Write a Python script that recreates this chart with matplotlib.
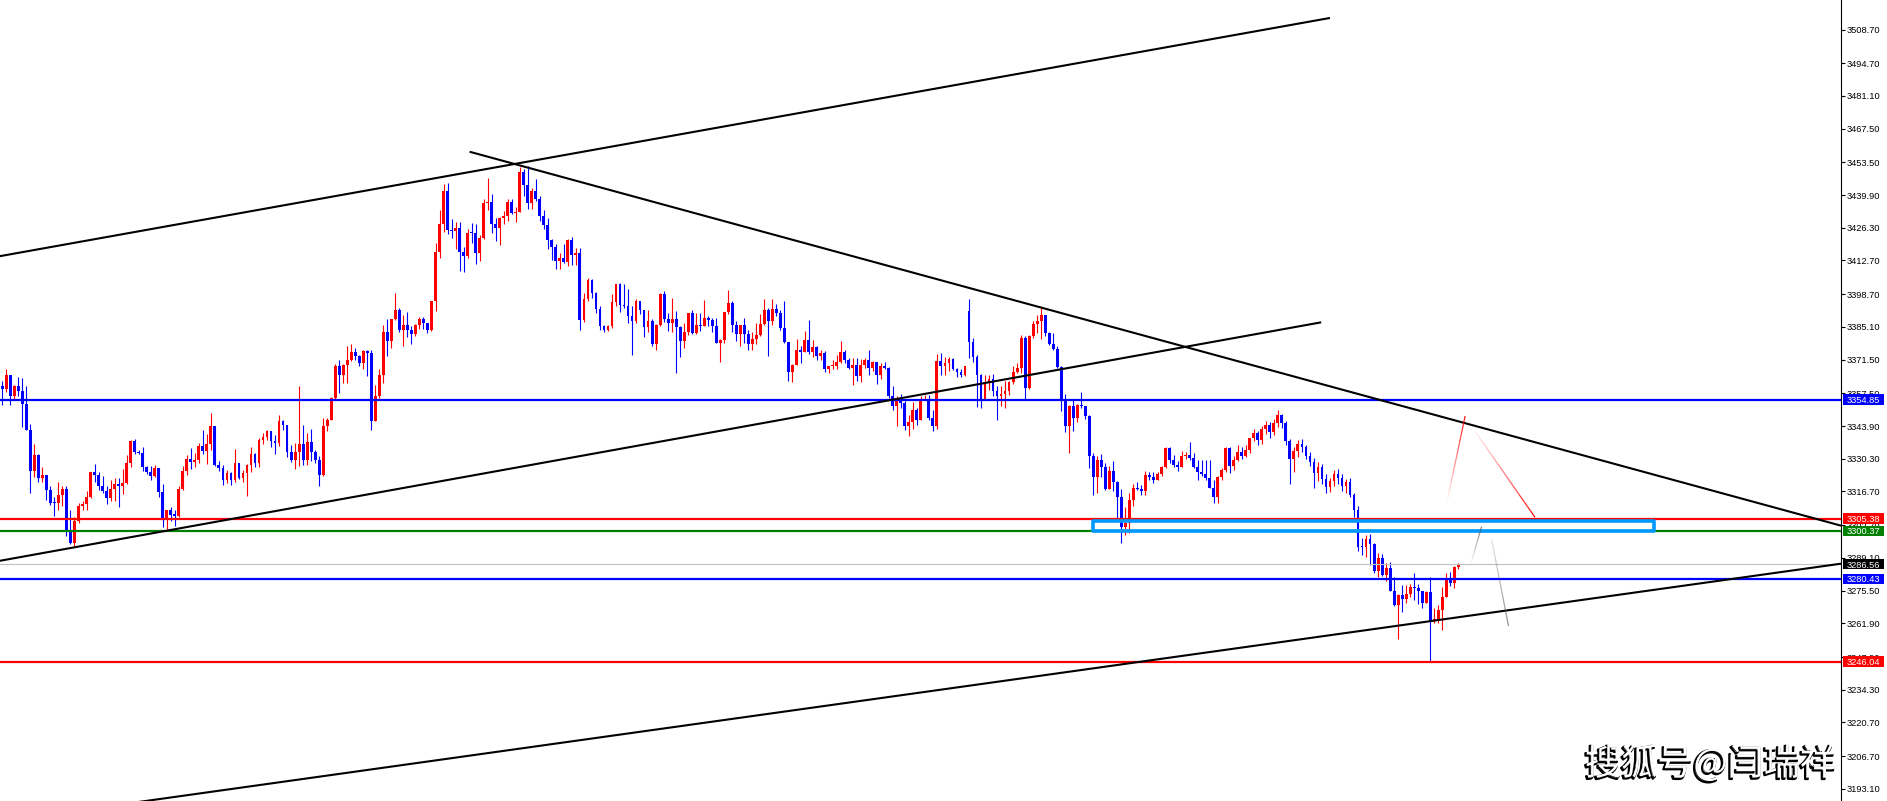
import numpy as np
import matplotlib
matplotlib.use("Agg")
import matplotlib.pyplot as plt
import matplotlib.patheffects as pe
import matplotlib.transforms as mtransforms
from matplotlib.collections import LineCollection
from matplotlib.patches import Rectangle
from matplotlib.colors import to_rgba

# ---------------- data ----------------
first_open = 3360.7
closes = [
    3359.3, 3365.3, 3356.2, 3360.7, 3358.3, 3353.2, 3342.4, 3325.4, 3331.9, 3322.5,
    3323.6, 3317.4, 3312.1, 3311.8, 3315.3, 3317.6, 3300.7, 3295.1, 3304.6, 3310.7,
    3311.5, 3314.6, 3324.6, 3323.6, 3319.0, 3316.7, 3313.9, 3317.6, 3319.9, 3318.8,
    3320.4, 3328.5, 3337.8, 3333.3, 3332.6, 3326.8, 3325.0, 3323.2, 3326.4, 3316.3,
    3305.5, 3309.0, 3306.9, 3306.7, 3317.8, 3325.3, 3330.1, 3328.9, 3329.9, 3335.4,
    3333.7, 3336.5, 3343.8, 3327.8, 3326.4, 3321.3, 3324.3, 3321.3, 3328.5, 3322.2,
    3324.3, 3327.8, 3332.4, 3328.5, 3338.2, 3339.3, 3341.7, 3337.5, 3336.8, 3345.8,
    3344.4, 3333.3, 3329.6, 3333.3, 3336.5, 3329.6, 3337.1, 3333.3, 3329.9, 3323.6,
    3343.8, 3346.5, 3355.6, 3369.0, 3365.3, 3369.4, 3371.2, 3374.6, 3373.2, 3370.1,
    3375.0, 3374.3, 3346.2, 3356.5, 3365.3, 3382.9, 3379.2, 3388.2, 3392.3, 3383.7,
    3386.1, 3383.7, 3382.3, 3385.7, 3388.5, 3386.8, 3384.0, 3395.8, 3416.2, 3427.8,
    3441.6, 3425.4, 3425.0, 3426.1, 3416.2, 3414.6, 3424.3, 3424.0, 3415.7, 3422.2,
    3436.5, 3437.1, 3427.8, 3426.0, 3430.5, 3431.0, 3437.1, 3432.3, 3432.9, 3449.3,
    3444.0, 3436.5, 3441.6, 3438.2, 3431.0, 3427.4, 3421.2, 3418.5, 3412.5, 3413.9,
    3412.1, 3421.1, 3414.8, 3415.7, 3387.9, 3396.8, 3404.6, 3399.3, 3392.6, 3385.4,
    3383.7, 3385.4, 3395.5, 3402.8, 3394.0, 3393.7, 3389.6, 3387.5, 3395.8, 3392.3,
    3385.1, 3387.5, 3378.2, 3385.7, 3398.6, 3388.2, 3386.8, 3388.2, 3385.1, 3379.2,
    3382.9, 3390.7, 3382.6, 3386.1, 3385.4, 3388.9, 3387.9, 3385.4, 3378.5, 3379.6,
    3391.2, 3395.1, 3386.1, 3382.2, 3385.7, 3382.2, 3377.8, 3380.1, 3381.9, 3386.5,
    3392.1, 3387.5, 3392.6, 3390.7, 3384.7, 3378.8, 3366.2, 3369.4, 3375.4, 3374.7,
    3379.6, 3374.6, 3376.7, 3373.2, 3374.3, 3367.4, 3368.7, 3369.0, 3370.4, 3374.6,
    3371.2, 3368.0, 3369.4, 3364.6, 3369.4, 3371.2, 3368.1, 3370.4, 3365.3, 3368.8,
    3368.1, 3356.3, 3352.1, 3354.9, 3353.5, 3344.0, 3345.4, 3350.4, 3346.5, 3354.6,
    3355.1, 3347.2, 3344.0, 3370.8, 3369.0, 3369.9, 3371.8, 3367.4, 3366.3, 3365.3,
    3368.8, 3378.7, 3372.6, 3365.3, 3355.1, 3362.1, 3363.5, 3358.3, 3356.5, 3357.4,
    3358.3, 3362.1, 3366.3, 3368.1, 3380.6, 3359.7, 3381.2, 3386.5, 3387.5, 3389.9,
    3382.4, 3378.2, 3376.0, 3368.5, 3355.1, 3344.0, 3352.4, 3347.2, 3352.8, 3352.4,
    3348.2, 3331.5, 3322.6, 3329.6, 3326.8, 3317.6, 3325.4, 3320.8, 3314.3, 3301.8,
    3303.8, 3313.2, 3318.1, 3317.6, 3316.7, 3323.6, 3322.6, 3321.3, 3324.0, 3326.8,
    3334.7, 3329.6, 3327.8, 3326.8, 3331.5, 3331.9, 3330.5, 3326.8, 3325.0, 3324.0,
    3322.2, 3318.1, 3314.3, 3322.6, 3325.7, 3334.7, 3327.4, 3329.9, 3333.3, 3331.5,
    3334.0, 3338.9, 3341.0, 3338.0, 3342.5, 3344.5, 3341.5, 3345.0, 3348.5, 3345.0,
    3337.5, 3330.0, 3333.5, 3336.5, 3335.0, 3331.5, 3329.0, 3324.5, 3327.0, 3322.0,
    3318.5, 3321.0, 3324.0, 3322.5, 3319.0, 3320.5, 3315.3, 3309.0, 3293.8, 3293.5,
    3296.8, 3294.9, 3283.8, 3288.9, 3281.9, 3284.7, 3275.4, 3269.5, 3273.6, 3272.2,
    3274.3, 3277.1, 3276.4, 3275.4, 3270.4, 3275.0, 3262.9, 3263.9, 3267.4, 3272.9,
    3280.2, 3278.5, 3285.2, 3286.5,
]
highs = [
    3362.5, 3367.6, 3365.3, 3361.0, 3364.3, 3363.9, 3360.7, 3344.9, 3336.5, 3332.4,
    3326.8, 3323.6, 3318.8, 3314.6, 3320.8, 3318.8, 3318.8, 3309.0, 3306.3, 3312.1,
    3312.9, 3316.7, 3325.0, 3328.2, 3325.0, 3323.2, 3319.0, 3321.3, 3322.2, 3322.2,
    3326.0, 3331.9, 3338.0, 3338.5, 3334.0, 3335.1, 3327.1, 3327.4, 3327.8, 3326.4,
    3319.9, 3309.2, 3310.4, 3309.0, 3318.8, 3327.1, 3331.9, 3334.7, 3332.6, 3336.8,
    3342.4, 3340.7, 3349.3, 3343.8, 3329.2, 3327.8, 3325.7, 3325.0, 3334.3, 3328.5,
    3325.7, 3328.0, 3335.1, 3332.6, 3338.9, 3341.0, 3342.4, 3341.7, 3340.3, 3348.6,
    3346.5, 3344.4, 3336.1, 3336.8, 3360.7, 3344.4, 3341.0, 3342.6, 3334.0, 3331.3,
    3347.2, 3347.2, 3355.8, 3369.7, 3371.5, 3369.6, 3377.1, 3377.8, 3376.4, 3373.6,
    3375.7, 3375.7, 3375.4, 3361.1, 3367.6, 3385.7, 3388.5, 3388.5, 3399.0, 3393.0,
    3390.2, 3391.2, 3385.4, 3386.5, 3389.3, 3389.3, 3386.8, 3396.0, 3419.8, 3433.7,
    3444.4, 3444.8, 3430.1, 3428.7, 3428.5, 3418.5, 3425.9, 3428.2, 3427.8, 3423.2,
    3438.2, 3446.8, 3440.3, 3430.5, 3430.9, 3433.3, 3438.2, 3438.2, 3435.1, 3451.4,
    3450.7, 3451.8, 3443.0, 3446.5, 3439.6, 3433.7, 3430.5, 3421.5, 3419.4, 3415.9,
    3419.4, 3421.5, 3422.6, 3418.0, 3418.0, 3399.3, 3405.5, 3405.1, 3399.6, 3393.7,
    3386.0, 3386.0, 3398.6, 3403.0, 3403.5, 3402.8, 3400.7, 3393.7, 3396.5, 3395.8,
    3392.3, 3392.3, 3388.2, 3386.5, 3399.0, 3400.0, 3390.9, 3397.2, 3391.6, 3385.4,
    3386.8, 3391.0, 3392.3, 3390.7, 3390.7, 3396.2, 3389.6, 3388.9, 3388.9, 3380.0,
    3391.4, 3400.4, 3395.8, 3387.5, 3386.1, 3388.9, 3383.9, 3382.9, 3386.8, 3390.3,
    3396.8, 3393.0, 3396.8, 3394.8, 3392.3, 3395.8, 3379.0, 3369.6, 3379.9, 3377.1,
    3383.3, 3387.9, 3379.6, 3377.3, 3375.4, 3375.0, 3369.0, 3371.2, 3373.6, 3379.2,
    3375.7, 3372.2, 3372.2, 3372.2, 3371.8, 3372.2, 3375.4, 3370.8, 3370.4, 3369.9,
    3370.4, 3368.3, 3360.7, 3356.2, 3357.4, 3354.2, 3348.6, 3353.8, 3351.4, 3356.2,
    3356.9, 3356.9, 3350.7, 3374.0, 3374.3, 3372.6, 3372.6, 3372.2, 3368.1, 3367.6,
    3369.0, 3396.8, 3380.6, 3373.6, 3365.7, 3365.3, 3365.3, 3365.7, 3360.7, 3360.4,
    3362.5, 3362.5, 3369.0, 3370.1, 3381.9, 3381.2, 3381.9, 3387.5, 3389.9, 3393.7,
    3389.9, 3382.9, 3382.4, 3377.1, 3368.8, 3357.4, 3352.6, 3354.6, 3353.0, 3357.9,
    3352.4, 3348.6, 3332.9, 3331.5, 3332.4, 3328.5, 3327.4, 3329.2, 3321.1, 3317.6,
    3310.1, 3316.2, 3319.9, 3320.8, 3319.4, 3325.4, 3324.6, 3325.0, 3325.0, 3327.1,
    3335.1, 3335.1, 3331.9, 3329.2, 3333.7, 3333.3, 3337.1, 3332.6, 3329.9, 3329.6,
    3329.6, 3329.6, 3321.3, 3323.2, 3326.4, 3335.1, 3335.1, 3331.5, 3336.1, 3335.1,
    3336.1, 3339.0, 3342.5, 3342.0, 3344.0, 3346.0, 3345.5, 3347.0, 3350.5, 3349.0,
    3346.0, 3338.5, 3335.0, 3338.0, 3338.5, 3336.0, 3333.0, 3330.5, 3329.0, 3328.0,
    3324.0, 3322.5, 3325.5, 3326.0, 3324.0, 3322.0, 3322.2, 3316.0, 3310.7, 3297.2,
    3298.6, 3299.0, 3295.4, 3291.0, 3290.7, 3287.1, 3287.5, 3281.3, 3274.3, 3277.8,
    3277.8, 3278.2, 3282.9, 3278.2, 3275.4, 3275.4, 3281.3, 3268.1, 3269.5, 3277.1,
    3282.9, 3283.3, 3285.7, 3287.1,
]
lows = [
    3352.8, 3357.9, 3352.8, 3354.9, 3356.2, 3343.5, 3342.1, 3316.2, 3322.9, 3320.8,
    3320.8, 3313.2, 3311.1, 3306.7, 3308.8, 3310.7, 3298.0, 3294.8, 3293.8, 3303.5,
    3309.0, 3309.0, 3313.9, 3320.8, 3317.4, 3316.0, 3311.5, 3312.9, 3312.9, 3310.4,
    3315.7, 3319.9, 3326.8, 3332.4, 3332.4, 3325.4, 3324.0, 3321.3, 3322.9, 3314.6,
    3302.1, 3301.1, 3304.6, 3302.5, 3306.3, 3317.4, 3323.6, 3326.1, 3326.8, 3328.5,
    3332.4, 3328.2, 3334.0, 3327.1, 3325.4, 3319.4, 3320.1, 3319.4, 3320.8, 3321.8,
    3320.8, 3315.0, 3325.0, 3326.8, 3326.8, 3336.5, 3337.9, 3335.1, 3332.4, 3335.4,
    3342.1, 3331.0, 3328.9, 3326.0, 3327.1, 3327.8, 3327.8, 3329.2, 3328.5, 3318.8,
    3323.2, 3341.7, 3346.3, 3355.1, 3357.6, 3361.8, 3361.8, 3370.8, 3371.5, 3369.0,
    3367.6, 3364.8, 3342.3, 3346.2, 3355.6, 3361.8, 3372.9, 3376.4, 3387.9, 3382.9,
    3377.3, 3381.0, 3377.8, 3381.5, 3384.3, 3384.3, 3382.5, 3383.5, 3391.6, 3413.9,
    3424.6, 3423.6, 3422.2, 3417.6, 3408.3, 3407.9, 3413.9, 3419.8, 3411.1, 3412.5,
    3421.5, 3433.7, 3424.0, 3420.8, 3419.0, 3427.8, 3429.1, 3431.9, 3428.7, 3433.7,
    3439.6, 3434.0, 3434.3, 3437.5, 3429.1, 3425.9, 3417.3, 3412.9, 3409.0, 3409.3,
    3411.8, 3410.4, 3410.7, 3410.7, 3384.0, 3387.1, 3395.8, 3397.2, 3390.7, 3384.0,
    3383.0, 3383.3, 3384.5, 3393.7, 3391.2, 3393.0, 3386.8, 3373.6, 3386.8, 3390.3,
    3381.0, 3382.9, 3377.3, 3375.4, 3385.4, 3387.1, 3383.3, 3382.9, 3366.0, 3372.6,
    3376.4, 3381.9, 3382.3, 3382.3, 3383.3, 3385.4, 3385.4, 3382.9, 3378.3, 3370.4,
    3378.5, 3390.3, 3382.9, 3379.2, 3377.1, 3378.5, 3375.4, 3375.7, 3378.2, 3381.2,
    3386.1, 3373.2, 3386.1, 3389.6, 3384.0, 3378.5, 3362.5, 3362.1, 3369.4, 3370.1,
    3374.6, 3374.0, 3372.6, 3371.2, 3371.5, 3366.5, 3366.0, 3367.4, 3367.6, 3369.9,
    3370.1, 3367.4, 3361.1, 3362.5, 3362.1, 3368.1, 3365.3, 3366.7, 3361.5, 3363.5,
    3367.6, 3355.6, 3350.4, 3344.0, 3351.4, 3342.1, 3339.9, 3342.6, 3344.4, 3346.5,
    3354.6, 3346.3, 3341.7, 3342.6, 3365.3, 3365.3, 3366.7, 3367.1, 3364.3, 3364.3,
    3364.9, 3372.2, 3370.4, 3351.8, 3351.4, 3354.9, 3359.0, 3356.5, 3346.5, 3352.1,
    3351.4, 3356.9, 3361.5, 3366.0, 3366.0, 3355.1, 3359.3, 3380.6, 3382.6, 3380.1,
    3381.5, 3377.4, 3375.7, 3368.1, 3350.0, 3341.3, 3332.9, 3341.7, 3345.4, 3351.4,
    3346.8, 3326.4, 3315.3, 3316.2, 3322.9, 3317.4, 3317.6, 3317.1, 3305.6, 3295.1,
    3298.6, 3299.3, 3310.7, 3317.4, 3315.3, 3315.3, 3321.5, 3320.4, 3321.3, 3323.2,
    3326.4, 3328.7, 3326.8, 3325.4, 3326.8, 3330.1, 3329.6, 3326.4, 3321.3, 3323.2,
    3321.3, 3318.1, 3311.8, 3311.8, 3321.5, 3325.0, 3324.3, 3325.7, 3329.2, 3330.1,
    3331.2, 3332.6, 3337.5, 3336.0, 3336.5, 3340.5, 3339.0, 3340.0, 3343.5, 3343.0,
    3336.0, 3320.0, 3325.0, 3331.0, 3333.0, 3330.0, 3327.5, 3318.0, 3321.0, 3320.0,
    3316.0, 3316.5, 3319.0, 3320.0, 3317.0, 3316.0, 3314.6, 3306.0, 3292.1, 3290.3,
    3289.6, 3286.1, 3282.9, 3281.3, 3281.5, 3279.6, 3275.4, 3269.0, 3255.2, 3266.7,
    3270.4, 3272.7, 3271.5, 3269.9, 3268.1, 3270.2, 3246.3, 3262.1, 3262.1, 3259.0,
    3272.9, 3277.4, 3276.4, 3284.3,
]
gap_opens = {241: 3391.7}

price_ticks = [3508.70, 3494.70, 3481.10, 3467.50, 3453.50, 3439.90, 3426.30,
               3412.70, 3398.70, 3385.10, 3371.50, 3357.50, 3343.90, 3330.30,
               3316.70, 3302.70, 3289.10, 3275.50, 3261.90, 3247.90, 3234.30,
               3220.70, 3206.70, 3193.10]
top_partial_tick = 3522.30

level_prices = [3354.85, 3305.38, 3300.37, 3286.56, 3280.43, 3246.04]
level_line_colors = ['#0000ff', '#ff0000', '#008000', '#c0c0c0', '#0000ff', '#ff0000']
level_box_colors = ['#0000ff', '#ff0000', '#008000', '#000000', '#0000ff', '#ff0000']

# trend lines: (x0, price0, x1, price1) in bar-index units
trend_lines = [
    (-0.6, 3414.5, 331.0, 3513.5),
    (-0.6, 3287.9, 328.8, 3387.0),
    (20.0, 3184.4, 458.4, 3286.7),
    (116.5, 3457.9, 458.4, 3302.5),
]
zone_x = (271.9, 411.8)
zone_price = (3300.2, 3304.35)
red_paths = [(360.1, 3311.8, 364.7, 3348.1, 0.0, 0.95),
             (367.2, 3341.6, 382.1, 3306.0, 0.05, 1.0)]
gray_paths = [(366.1, 3286.6, 368.8, 3302.1, 0.0, 0.75),
              (371.3, 3296.8, 375.5, 3260.8, 0.15, 0.65)]
watermark = "搜狐号@闫瑞祥"

# ---------------- figure ----------------
W, H = 1887, 801
AX_RIGHT = 1841
fig = plt.figure(figsize=(W / 100, H / 100), dpi=100)
fig.patch.set_facecolor('white')
ax = fig.add_axes([0, 0, AX_RIGHT / W, 1])
ax.set_facecolor('white')

XLIM = (-0.573, 458.4)
YLIM = (3188.07, 3520.96)

c = np.array(closes)
h = np.array(highs)
l = np.array(lows)
o = np.concatenate([[first_open], c[:-1]])
for k, v in gap_opens.items():
    o[k] = v
h = np.maximum(h, np.maximum(o, c))
l = np.minimum(l, np.minimum(o, c))
x = np.arange(len(c))
up = c >= o
cols = np.where(up, '#ff0000', '#0000ff')

ax.vlines(x, l, h, colors=cols, linewidth=0.8, zorder=2)
bottoms = np.minimum(o, c)
heights = np.maximum(np.abs(c - o), 0.45)
ax.bar(x, heights, bottom=bottoms, width=0.7, color=cols, linewidth=0, zorder=2.1)

# horizontal levels
for p, col in zip(level_prices, level_line_colors):
    lw = 0.8 if col == '#c0c0c0' else 1.6
    ax.axhline(p, color=col, linewidth=lw, zorder=3)

# trend lines
for (x0, y0, x1, y1) in trend_lines:
    ax.plot([x0, x1], [y0, y1], color='black', linewidth=1.5, zorder=4,
            solid_capstyle='butt')

# zone rectangle
ax.add_patch(Rectangle((zone_x[0], zone_price[0]), zone_x[1] - zone_x[0],
                       zone_price[1] - zone_price[0], fill=False,
                       edgecolor='#0099ff', linewidth=2.6, joinstyle='round',
                       zorder=5))


def grad_line(x0, y0, x1, y1, color, a0, a1, lw, n=40):
    t = np.linspace(0, 1, n + 1)
    xs = x0 + (x1 - x0) * t
    ys = y0 + (y1 - y0) * t
    segs = np.stack([np.column_stack([xs[:-1], ys[:-1]]),
                     np.column_stack([xs[1:], ys[1:]])], axis=1)
    rgba = np.array([to_rgba(color)] * n)
    rgba[:, 3] = a0 + (a1 - a0) * (t[:-1] + t[1:]) / 2
    ax.add_collection(LineCollection(segs, colors=rgba, linewidths=lw, zorder=6))


for (x0, y0, x1, y1, a0, a1) in red_paths:
    grad_line(x0, y0, x1, y1, '#ff0000', a0, a1, 0.9)
for (x0, y0, x1, y1, a0, a1) in gray_paths:
    grad_line(x0, y0, x1, y1, '#505050', a0, a1, 0.9)

# axes cosmetics
ax.set_xlim(*XLIM)
ax.set_ylim(*YLIM)
ax.set_xticks([])
for s in ['top', 'left', 'bottom']:
    ax.spines[s].set_visible(False)
ax.spines['right'].set_linewidth(0.8)
ax.spines['right'].set_color('black')
ax.yaxis.tick_right()
ax.set_yticks(price_ticks)
ax.set_yticklabels([f"{v:.2f}" for v in price_ticks])
ax.tick_params(axis='y', direction='out', length=2.6, width=0.8, pad=1.4,
               labelsize=6.7, colors='black')
for lab in ax.get_yticklabels():
    lab.set_fontfamily('Liberation Sans')

blend = mtransforms.blended_transform_factory(mtransforms.IdentityTransform(), ax.transData)
ax.text(1846.5, top_partial_tick, f"{top_partial_tick:.2f}", transform=blend,
        ha='left', va='center_baseline', fontsize=6.7, family='Liberation Sans',
        clip_on=False, zorder=9)

box_h = 10.5 * (YLIM[1] - YLIM[0]) / H
for p, bc in zip(level_prices, level_box_colors):
    ax.add_patch(Rectangle((1842.5, p - box_h / 2), 41.5, box_h, transform=blend,
                           facecolor=bc, edgecolor='none', clip_on=False, zorder=10))
    ax.text(1863.2, p, f"{p:.2f}", transform=blend, ha='center', va='center_baseline',
            fontsize=6.7, family='Liberation Sans', color='white', clip_on=False,
            zorder=11)
ax.set_xlim(*XLIM)
ax.set_ylim(*YLIM)

fig.text(1836 / W, 1 - 764 / H, watermark, ha='right', va='center', fontsize=26,
         family=['Noto Sans CJK SC', 'DejaVu Sans'], color='white',
         path_effects=[pe.Stroke(linewidth=1.6, foreground='black', offset=(-1, -1)),
                       pe.Normal()])

fig.savefig('out.png', dpi=100, facecolor='white')
